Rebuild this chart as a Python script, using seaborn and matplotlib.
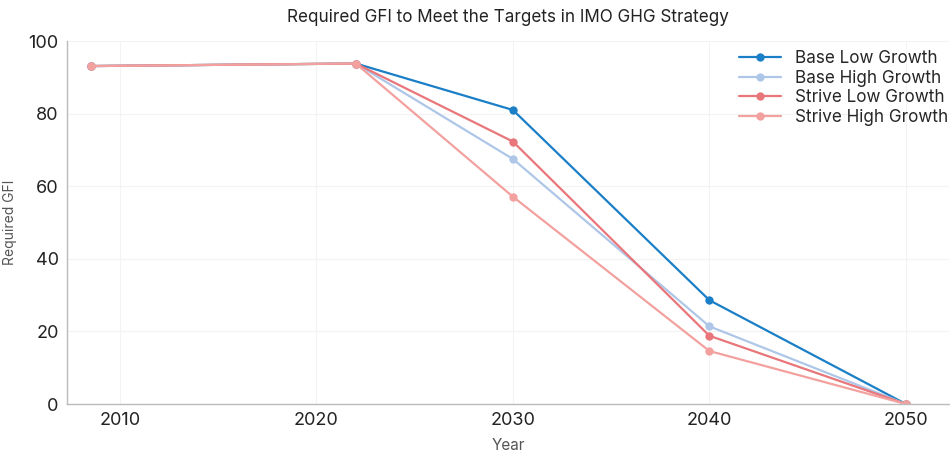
import matplotlib
matplotlib.use("Agg")
import matplotlib.pyplot as plt
import seaborn as sns
import pandas as pd

years = [2008.5, 2022, 2030, 2040, 2050]
series_names = ["Base Low Growth", "Base High Growth", "Strive Low Growth", "Strive High Growth"]
base_low = [93.1, 93.8, 81.0, 28.6, 0.0]
base_high = [93.1, 93.8, 67.5, 21.4, 0.0]
strive_low = [93.1, 93.8, 72.3, 18.8, 0.0]
strive_high = [93.1, 93.8, 57.1, 14.6, 0.0]
colors = ["#1a7fc6", "#aec7e8", "#e8767a", "#f3a19e"]

rows = []
for name, vals in zip(series_names, [base_low, base_high, strive_low, strive_high]):
    for y, v in zip(years, vals):
        rows.append({"Year": y, "Required GFI": v, "Scenario": name})
df = pd.DataFrame(rows)

sns.set_theme(style="whitegrid")
plt.rcParams["font.family"] = ["Inter", "DejaVu Sans"]

fig = plt.figure(figsize=(9.5, 4.63), dpi=100)
ax = fig.add_axes([0.0705, 0.1274, 0.9285, 0.784])
sns.lineplot(data=df, x="Year", y="Required GFI", hue="Scenario",
             hue_order=series_names, palette=colors, marker="o",
             markersize=6, markeredgewidth=0, linewidth=1.6, ax=ax)

ax.set_xlim(2007.3, 2052.2)
ax.set_ylim(0, 100)
ax.set_xticks([2010, 2020, 2030, 2040, 2050])
ax.set_yticks([0, 20, 40, 60, 80, 100])
ax.tick_params(axis="both", labelsize=13, colors="#222222", length=0, pad=6)
ax.grid(True, color="#f3f3f3", linewidth=0.8)
for s in ["top", "right"]:
    ax.spines[s].set_visible(False)
for s in ["left", "bottom"]:
    ax.spines[s].set_color("#bbbbbb")
    ax.spines[s].set_linewidth(1.0)
ax.set_xlabel("Year", fontsize=11, color="#555555", labelpad=6)
ax.set_ylabel("Required GFI", fontsize=10, color="#555555", labelpad=8)
ax.set_title("Required GFI to Meet the Targets in IMO GHG Strategy", fontsize=12.3, pad=14, color="#222222")
leg = ax.legend(loc="upper right", frameon=False, fontsize=12.3, handlelength=2.5,
                labelspacing=0.15, borderaxespad=0.0, bbox_to_anchor=(1.007, 0.994))
fig.savefig("out.png", dpi=100)
